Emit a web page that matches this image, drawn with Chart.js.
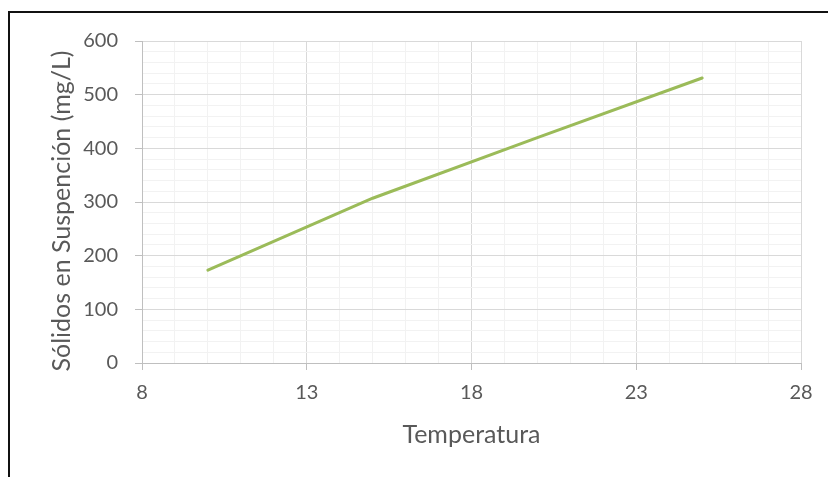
<!DOCTYPE html>
<html>
<head>
<meta charset="utf-8">
<script src="https://cdn.jsdelivr.net/npm/chart.js@4.4.0/dist/chart.umd.min.js"></script>
<style>
  html, body { margin: 0; padding: 0; background: #fff; overflow: hidden; }
  #wrap { position: relative; width: 828px; height: 477px; }
  #frame {
    position: absolute; left: 8px; top: 11px; right: -10px; bottom: -10px;
    border-left: 2px solid #111; border-top: 2px solid #111;
    pointer-events: none;
  }
  canvas { position: absolute; left: 0; top: 0; }
</style>
</head>
<body>
<div id="wrap">
  <canvas id="chart" width="828" height="477"></canvas>
  <div id="frame"></div>
</div>
<script>
// Temperature (x) vs suspended solids (y)
const temps  = [10, 15, 20, 25];
const solids = [173, 307, 420, 531];

const xMajor = [8, 13, 18, 23, 28];
const yMajor = [0, 100, 200, 300, 400, 500, 600];

const Y_TITLE = "Sólidos en Suspención (mg/L)";

const TEXT   = "#595959";
const MAJOR  = "#d9d9d9";
const MINOR  = "#f2f2f2";
const AXIS   = "#bfbfbf";
const GREEN  = "#9bbb59";

Chart.defaults.font.family = "Lato, 'Open Sans', sans-serif";
Chart.defaults.color = TEXT;

const isMajor = (list, v) => list.includes(v);

// Excel puts the vertical title a bit below the plot centre, so draw it by hand
const yTitlePlugin = {
  id: "yTitle",
  afterDraw(chart) {
    const { ctx, chartArea } = chart;
    const cy = (chartArea.top + chartArea.bottom) / 2 + 9;
    ctx.save();
    ctx.translate(62, cy);
    ctx.rotate(-Math.PI / 2);
    ctx.font = "25px Lato, 'Open Sans', sans-serif";
    ctx.fillStyle = TEXT;
    ctx.textAlign = "center";
    ctx.textBaseline = "middle";
    ctx.fillText(Y_TITLE, 0, 0);
    ctx.restore();
  },
};

new Chart(document.getElementById("chart"), {
  type: "scatter",
  data: {
    datasets: [{
      data: temps.map((t, i) => ({ x: t, y: solids[i] })),
      showLine: true,
      borderColor: GREEN,
      borderWidth: 3,
      borderCapStyle: "round",
      pointRadius: 0,
      tension: 0,
    }],
  },
  plugins: [yTitlePlugin],
  options: {
    responsive: false,
    animation: false,
    devicePixelRatio: 1,
    layout: { padding: { left: 47, top: 41, right: 27, bottom: 27 } },
    plugins: { legend: { display: false }, tooltip: { enabled: false } },
    scales: {
      x: {
        type: "linear",
        min: 8, max: 28,
        afterFit: s => { s.height = 87; },
        ticks: {
          stepSize: 1,
          autoSkip: false,
          maxRotation: 0,
          padding: 11,
          font: { size: 20 },
          callback: v => isMajor(xMajor, v) ? String(v) : "",
        },
        grid: {
          color: c => isMajor(xMajor, c.tick.value) ? MAJOR : MINOR,
          tickColor: c => isMajor(xMajor, c.tick.value) ? AXIS : "rgba(0,0,0,0)",
          tickLength: 7,
          lineWidth: 1,
        },
        border: { color: AXIS, width: 1 },
        title: {
          display: true,
          text: "Temperatura",
          font: { size: 25 },
          padding: 0,
        },
      },
      y: {
        min: 0, max: 600,
        afterFit: s => { s.width = 95; },
        ticks: {
          stepSize: 20,
          autoSkip: false,
          padding: 17,
          font: { size: 20 },
          callback: v => isMajor(yMajor, v) ? String(v) : "",
        },
        grid: {
          color: c => isMajor(yMajor, c.tick.value) ? MAJOR : MINOR,
          tickColor: c => isMajor(yMajor, c.tick.value) ? AXIS : "rgba(0,0,0,0)",
          tickLength: 7,
          lineWidth: 1,
        },
        border: { color: AXIS, width: 1 },
      },
    },
  },
});
</script>
</body>
</html>
